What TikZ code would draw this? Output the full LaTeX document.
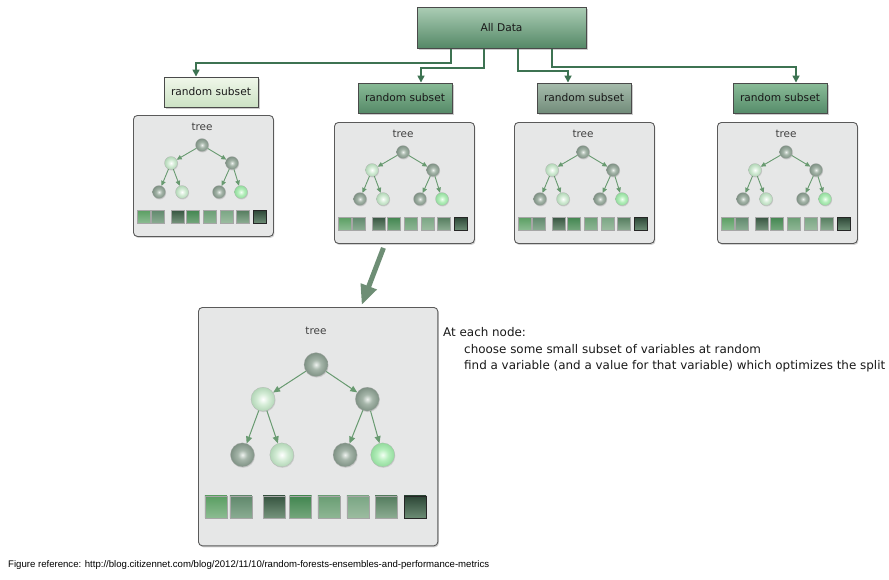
\documentclass[tikz,border=0pt]{standalone}
\usepackage{fontspec}
\setmainfont{DejaVu Sans}
\newfontfamily\footfont{Liberation Sans}
\usetikzlibrary{arrows.meta,shadows}

\definecolor{panelfill}{HTML}{E6E7E7}
\definecolor{panelborder}{HTML}{5A5A5A}
\definecolor{boxborder}{HTML}{4A4A4A}
\definecolor{conncol}{HTML}{3D7352}
\definecolor{edgecol}{HTML}{689A70}
\definecolor{bigarrcol}{HTML}{6E8E75}
\definecolor{txtcol}{HTML}{1A1A1A}

\definecolor{dhi}{HTML}{EEF2EF}\definecolor{dmid}{HTML}{A6B6AA}\definecolor{drim}{HTML}{5C7163}
\definecolor{lhi}{HTML}{FFFFFF}\definecolor{lmid}{HTML}{D4ECD6}\definecolor{lrim}{HTML}{8CBC93}
\definecolor{ghi}{HTML}{F2FFF3}\definecolor{gmid}{HTML}{B4EEBB}\definecolor{grim}{HTML}{6CC47A}
\pgfdeclareradialshading{dballsh}{\pgfpoint{0bp}{0bp}}{color(0bp)=(dhi); color(10bp)=(dmid); color(38bp)=(drim); color(50bp)=(drim)}
\pgfdeclareradialshading{lballsh}{\pgfpoint{0bp}{0bp}}{color(0bp)=(lhi); color(12bp)=(lmid); color(40bp)=(lrim); color(50bp)=(lrim)}
\pgfdeclareradialshading{gballsh}{\pgfpoint{0bp}{0bp}}{color(0bp)=(ghi); color(12bp)=(gmid); color(40bp)=(grim); color(50bp)=(grim)}

\newlength\calw
% #1 macro, #2 target width (pt), #3 font switch, #4 sample text
\newcommand\fitsize[4]{%
  \settowidth\calw{\normalfont#3\fontsize{10}{12}\selectfont #4}%
  \pgfmathsetmacro#1{10*#2/\calw}}

\tikzset{
  base/.style={font=\fontsize{\boxsz}{12}\selectfont, text=txtcol},
  panel/.style={draw=panelborder, fill=panelfill, line width=0.9pt, rounded corners=4pt,
    anchor=north west, inner sep=0pt,
    drop shadow={opacity=0.35, shadow xshift=1pt, shadow yshift=-1.5pt}},
  boxshadow/.style={drop shadow={opacity=0.4, shadow xshift=1.5pt, shadow yshift=-1.5pt}},
  subset/.style={base, draw=boxborder, line width=0.9pt, minimum width=94pt, minimum height=30pt,
    inner sep=0pt, boxshadow},
  treelbl/.style={font=\fontsize{\treesz}{12}\selectfont, text=black!75, inner sep=0pt},
  ball/.style={circle, inner sep=0pt, minimum size=13pt, draw=black!30, line width=0.2pt,
    drop shadow={opacity=0.25, shadow xshift=0.6pt, shadow yshift=-1pt}},
  dball/.style={ball, shading=dballsh},
  lball/.style={ball, shading=lballsh},
  gball/.style={ball, shading=gballsh},
  tedge/.style={draw=edgecol, line width=0.9pt, -{Triangle[length=5pt,width=4.5pt]}},
  sqr/.style={inner sep=0pt, minimum size=13pt, draw=black!35, line width=0.3pt, shading angle=45,
    drop shadow={opacity=0.3, shadow xshift=0.6pt, shadow yshift=-1pt}},
  sqa/.style={sqr, top color={rgb,255:red,90;green,158;blue,98}, bottom color={rgb,255:red,140;green,188;blue,146}},
  sqb/.style={sqr, top color={rgb,255:red,96;green,136;blue,108}, bottom color={rgb,255:red,138;green,172;blue,146}},
  sqc/.style={sqr, top color={rgb,255:red,54;green,84;blue,64}, bottom color={rgb,255:red,118;green,148;blue,124}},
  sqd/.style={sqr, top color={rgb,255:red,66;green,134;blue,80}, bottom color={rgb,255:red,116;green,166;blue,124}},
  sqe/.style={sqr, top color={rgb,255:red,106;green,158;blue,116}, bottom color={rgb,255:red,142;green,182;blue,148}},
  sqf/.style={sqr, top color={rgb,255:red,122;green,166;blue,132}, bottom color={rgb,255:red,156;green,188;blue,160}},
  sqg/.style={sqr, top color={rgb,255:red,84;green,124;blue,94}, bottom color={rgb,255:red,140;green,172;blue,146}},
  sqh/.style={sqr, draw=black!85, line width=0.8pt, top color={rgb,255:red,44;green,70;blue,54}, bottom color={rgb,255:red,108;green,140;blue,116}},
  conn/.style={draw=conncol, line width=1.6pt, -{Triangle[length=7pt,width=7pt]}},
  bigarr/.style={draw=bigarrcol, line width=5pt, -{Triangle[length=20pt,width=16pt]}},
  note/.style={font=\fontsize{\notesz}{12}\selectfont, anchor=west, inner sep=0pt, text=black!90},
}

% #1 prefix, #2 x, #3 y, #4 xscale, #5 tree yscale, #6 panel yscale
\newcommand{\treepanel}[6]{%
  \node[panel, minimum width={140pt*#4}, minimum height={121pt*#6}] (#1) at (#2,#3) {};
  \begin{scope}[shift={(#2,#3)}]
    \node[treelbl] (#1lbl) at (69*#4, 12*#6) {tree};
    \node[dball] (#1r) at (69*#4, 30*#5) {};
    \node[lball] (#1a) at (38*#4, 48*#5) {};
    \node[dball] (#1b) at (99*#4, 48*#5) {};
    \node[dball] (#1c) at (26*#4, 77*#5) {};
    \node[lball] (#1d) at (49*#4, 77*#5) {};
    \node[dball] (#1e) at (86*#4, 77*#5) {};
    \node[gball] (#1f) at (108*#4, 77*#5) {};
    \draw[tedge] (#1r) -- (#1a);
    \draw[tedge] (#1r) -- (#1b);
    \draw[tedge] (#1a) -- (#1c);
    \draw[tedge] (#1a) -- (#1d);
    \draw[tedge] (#1b) -- (#1e);
    \draw[tedge] (#1b) -- (#1f);
    \node[sqa] (#1q1) at (10.5*#4, 101.5*#6) {};
    \node[sqb] (#1q2) at (25*#4, 101.5*#6) {};
    \node[sqc] (#1q3) at (44.5*#4, 101.5*#6) {};
    \node[sqd] (#1q4) at (60*#4, 101.5*#6) {};
    \node[sqe] (#1q5) at (76.5*#4, 101.5*#6) {};
    \node[sqf] (#1q6) at (93.5*#4, 101.5*#6) {};
    \node[sqg] (#1q7) at (110*#4, 101.5*#6) {};
    \node[sqh] (#1q8) at (127*#4, 101.5*#6) {};
  \end{scope}
}

\begin{document}
\fitsize{\boxsz}{80}{}{random subset}%
\fitsize{\treesz}{21}{}{tree}%
\fitsize{\notesz}{421}{}{find a variable (and a value for that variable) which optimizes the split}%
\fitsize{\footsz}{481}{\footfont}{Figure reference: http://blog.citizennet.com/blog/2012/11/10/random-forests-ensembles-and-performance-metrics}%
\begin{tikzpicture}[x=1pt, y=-1pt]
\useasboundingbox (0,0) rectangle (889,579);
\fill[white] (0,0) rectangle (889,579);

% All Data
\node[base, draw=boxborder, line width=0.9pt, minimum width=169pt, minimum height=41pt, inner sep=0pt,
  boxshadow, shading angle=30, top color={rgb,255:red,170;green,204;blue,180}, bottom color={rgb,255:red,84;green,136;blue,102}]
  (all) at (501.5,28) {All Data};

% random subsets
\node[subset, shading angle=20, top color={rgb,255:red,240;green,247;blue,234}, bottom color={rgb,255:red,204;green,226;blue,196}] (s1) at (211,92) {random subset};
\node[subset, shading angle=20, top color={rgb,255:red,136;green,186;blue,150}, bottom color={rgb,255:red,86;green,138;blue,104}] (s2) at (405,98) {random subset};
\node[subset, shading angle=20, top color={rgb,255:red,166;green,188;blue,172}, bottom color={rgb,255:red,114;green,140;blue,122}] (s3) at (584,98) {random subset};
\node[subset, shading angle=20, top color={rgb,255:red,138;green,188;blue,152}, bottom color={rgb,255:red,86;green,140;blue,106}] (s4) at (780,98) {random subset};

% connectors
\draw[conn] ([xshift=-50.5pt]all.south) -- ++(0,14) -| ([xshift=-15pt]s1.north);
\draw[conn] ([xshift=-17.5pt]all.south) -- ++(0,19) -| ([xshift=16pt]s2.north);
\draw[conn] ([xshift=16.5pt]all.south) -- ++(0,22) -| ([xshift=-16pt]s3.north);
\draw[conn] ([xshift=50.5pt]all.south) -- ++(0,18) -| ([xshift=16pt]s4.north);

% tree panels
\treepanel{pa}{133}{115}{1}{1}{1}
\treepanel{pb}{334}{122}{1}{1}{1}
\treepanel{pc}{514}{122}{1}{1}{1}
\treepanel{pd}{717}{122}{1}{1}{1}
\begin{scope}[ball/.append style={minimum size=24pt},
  sqr/.append style={minimum size=22pt},
  tedge/.append style={line width=1pt, -{Triangle[length=7pt,width=6pt]}}]
\treepanel{big}{198}{307}{1.71}{1.92}{1.97}
\end{scope}

% big arrow
\draw[bigarr] ([xshift=-21pt, yshift=-4pt]pb.south) -- ([xshift=43.5pt, yshift=2pt]big.north);

% notes
\node[note] (n1) at (443,332) {At each node:};
\node[note] (n2) at (464,349) {choose some small subset of variables at random};
\node[note] (n3) at (464,366) {find a variable (and a value for that variable) which optimizes the split};

% footer
\node[anchor=west, inner sep=0pt, font=\footfont\fontsize{\footsz}{10}\selectfont] (foot) at (8,565)
  {Figure reference: http://blog.citizennet.com/blog/2012/11/10/random-forests-ensembles-and-performance-metrics};
\end{tikzpicture}
\end{document}
